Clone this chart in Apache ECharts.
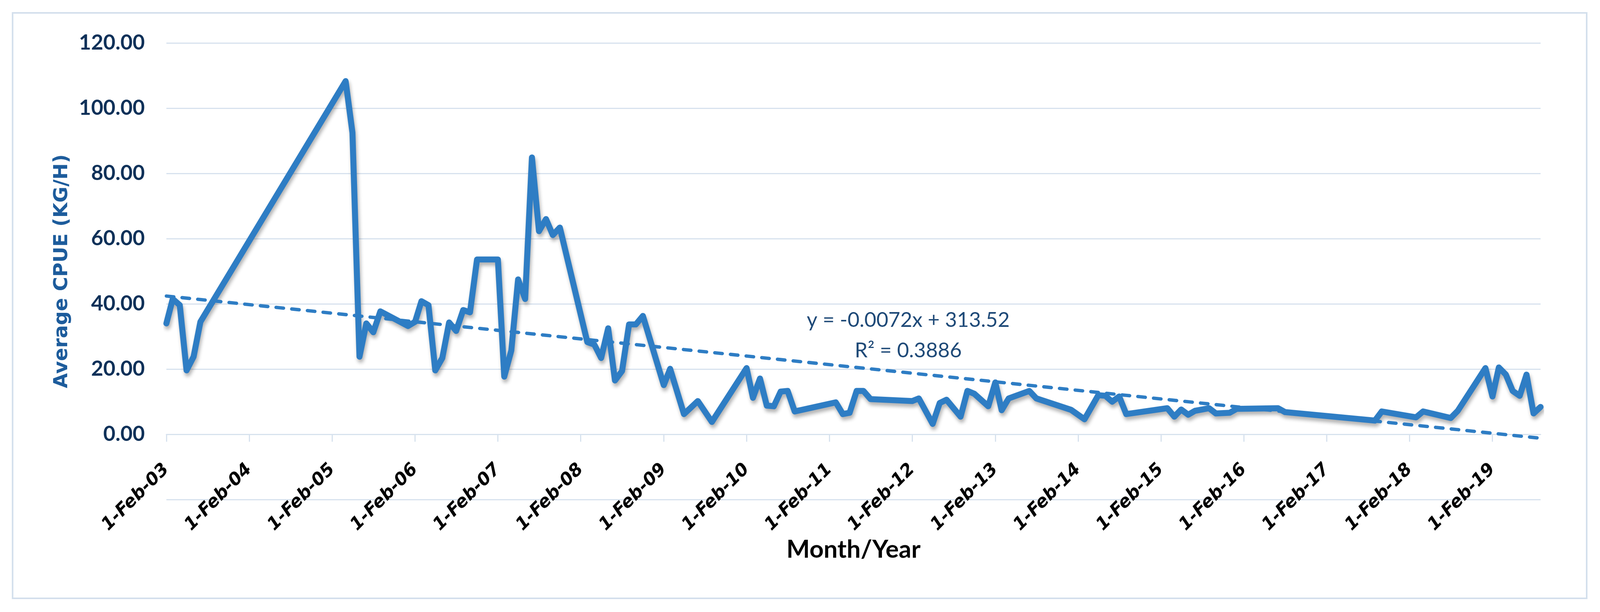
<!DOCTYPE html>
<html>
<head>
<meta charset="utf-8">
<script src="https://cdn.jsdelivr.net/npm/echarts@6/dist/echarts.min.js"></script>
<style>
html,body{margin:0;padding:0;background:#ffffff;overflow:hidden;width:100%;height:100%;}
#chart{width:100vw;height:100vh;}
</style>
</head>
<body>
<div id="chart"></div>
<script>
const months = [
  '2003-02','2003-03','2003-04','2003-05','2003-06','2003-07',
  '2005-04','2005-05','2005-06','2005-07','2005-08','2005-09',
  '2006-01','2006-02','2006-03','2006-04','2006-05','2006-06','2006-07','2006-08','2006-09','2006-10','2006-11',
  '2007-02','2007-03','2007-04','2007-05','2007-06','2007-07','2007-08','2007-09','2007-10','2007-11',
  '2008-03','2008-04','2008-05','2008-06','2008-07','2008-08','2008-09','2008-10','2008-11',
  '2009-02','2009-03','2009-05','2009-07','2009-09',
  '2010-02','2010-03','2010-04','2010-05','2010-06','2010-07','2010-08','2010-09',
  '2011-03','2011-04','2011-05','2011-06','2011-07','2011-08',
  '2012-02','2012-03','2012-05','2012-06','2012-07','2012-09','2012-10','2012-11',
  '2013-01','2013-02','2013-03','2013-04','2013-07','2013-08',
  '2014-01','2014-03','2014-05','2014-06','2014-07','2014-08','2014-09',
  '2015-03','2015-04','2015-05','2015-06','2015-07','2015-09','2015-10','2015-12',
  '2016-01','2016-07','2016-08',
  '2017-09','2017-10',
  '2018-03','2018-04','2018-08','2018-09',
  '2019-01','2019-02','2019-03','2019-04','2019-05','2019-06','2019-07','2019-08','2019-09'
];
const cpue = [
  34.0,41.5,39.6,19.6,23.8,34.5,
  108.3,92.5,23.8,34.0,31.3,37.7,
  33.2,34.5,40.8,39.6,19.6,23.4,34.3,31.7,38.1,37.4,53.6,
  53.6,17.7,25.7,47.5,41.5,84.9,62.3,66.0,61.1,63.4,
  28.3,27.5,23.4,32.5,16.5,19.4,33.7,33.7,36.3,
  15.1,20.1,6.2,10.2,3.8,
  20.3,11.2,17.1,8.8,8.6,13.1,13.3,7.0,
  9.8,6.2,6.6,13.3,13.3,10.8,
  10.2,11.0,3.2,9.6,10.6,5.4,13.3,12.4,
  8.6,15.9,7.4,11.0,13.3,11.0,
  7.5,4.6,12.0,11.8,10.0,11.6,6.2,
  8.0,5.4,7.6,6.0,7.2,8.0,6.4,6.6,
  7.8,8.0,6.8,
  4.2,7.0,
  5.2,7.0,5.0,7.2,
  20.3,11.6,20.5,18.3,13.3,11.8,18.3,6.4,8.4
];
// x-axis tick labels: 1 February of each year
const tickYears = ['2003','2004','2005','2006','2007','2008','2009','2010','2011','2012','2013','2014','2015','2016','2017','2018','2019'];
// linear trend line end values (at first and last month)
const trendStart = 42.4;
const trendEnd = -1.2;
const trendLabel1 = 'y = -0.0072x + 313.52';
const trendLabel2 = 'R\u00B2 = 0.3886';
const yMin = -20, yMax = 120, yStep = 20;

function dayNum(s) {
  const p = s.split('-').map(Number);
  return Date.UTC(p[0], p[1] - 1, p.length > 2 ? p[2] : 1) / 864e5;
}
const MON = ['Jan','Feb','Mar','Apr','May','Jun','Jul','Aug','Sep','Oct','Nov','Dec'];
function dayLabel(v) {
  const d = new Date(Math.round(v) * 864e5);
  return d.getUTCDate() + '-' + MON[d.getUTCMonth()] + '-' + String(d.getUTCFullYear()).slice(2);
}

const xMin = dayNum(months[0]);
const xMax = dayNum(months[months.length - 1]);
const tickDays = tickYears.map(y => dayNum(y + '-02-01'));
const lineData = months.map((m, i) => [dayNum(m), cpue[i]]);
const trendData = [[xMin, trendStart], [xMax, trendEnd]];

const BLUE = '#2E7DC4';
const GRID = '#D7E2EE';

const el = document.getElementById('chart');
const chart = echarts.init(el, null, {renderer: 'canvas'});
// layout designed on a 4443 x 1567 canvas, scaled to the actual viewport
const W = chart.getWidth(), H = chart.getHeight();
const sx = W / 4443, sy = H / 1567;
const sf = Math.sqrt(sx * sy);

chart.setOption({
  animation: false,
  backgroundColor: '#ffffff',
  grid: {left: 462 * sx, right: 165 * sx, top: 110 * sy, bottom: 288 * sy, outerBoundsMode: 'none', containLabel: false},
  xAxis: {
    type: 'value',
    min: xMin,
    max: xMax,
    splitLine: {show: false},
    axisLine: {show: true, onZero: true, lineStyle: {color: GRID, width: 3}},
    axisTick: {show: true, customValues: tickDays, length: 19 * sy, lineStyle: {color: GRID, width: 3}},
    axisLabel: {
      customValues: tickDays,
      formatter: dayLabel,
      rotate: 45,
      margin: -84 * sy,
      fontFamily: 'DejaVu Sans',
      fontWeight: 'bold',
      fontStyle: 'italic',
      fontSize: 47 * sf,
      color: '#000000'
    },
    name: 'Month/Year',
    nameLocation: 'middle',
    nameGap: 97 * sy,
    nameMoveOverlap: false,
    nameTextStyle: {fontFamily: 'Lato', fontWeight: 'bold', fontSize: 66 * sf, color: '#000000'}
  },
  yAxis: {
    type: 'value',
    min: yMin,
    max: yMax,
    interval: yStep,
    axisLine: {show: false},
    axisTick: {show: false},
    splitLine: {show: true, lineStyle: {color: GRID, width: 3}},
    axisLabel: {
      formatter: v => (v === yMin ? '' : v.toFixed(2)),
      margin: 60 * sx,
      fontFamily: 'Lato',
      fontWeight: 'bold',
      fontSize: 56 * sf,
      color: '#0F3159'
    },
    name: 'Average CPUE (KG/H)',
    nameLocation: 'middle',
    nameRotate: 90,
    nameGap: 262 * sx,
    nameMoveOverlap: false,
    nameTextStyle: {fontFamily: 'DejaVu Sans', fontWeight: 'bold', fontSize: 52 * sf, color: '#1D5C9C'}
  },
  series: [
    {
      name: 'Trend',
      type: 'line',
      data: trendData,
      showSymbol: false,
      silent: true,
      z: 3,
      lineStyle: {color: BLUE, width: 9 * sf, type: [20 * sf, 22 * sf], cap: 'round'}
    },
    {
      name: 'Average CPUE',
      type: 'line',
      data: lineData,
      showSymbol: false,
      z: 2,
      lineStyle: {
        color: BLUE, width: 16 * sf, join: 'round', cap: 'round',
        shadowColor: 'rgba(0,0,0,0.30)', shadowBlur: 10, shadowOffsetX: 3, shadowOffsetY: 8
      }
    }
  ],
  graphic: [
    {
      type: 'rect', silent: true, z: -1,
      shape: {x: 35 * sx, y: 33 * sy, width: 4371 * sx, height: 1499 * sy},
      style: {fill: 'none', stroke: '#D3DFEC', lineWidth: 4}
    },
    {
      type: 'text', silent: true,
      style: {text: trendLabel1, x: 2522 * sx, y: 820 * sy, textAlign: 'center', textVerticalAlign: 'middle',
              fontFamily: 'Lato', fontSize: 55 * sf, fill: '#1F4A78'}
    },
    {
      type: 'text', silent: true,
      style: {text: trendLabel2, x: 2522 * sx, y: 898 * sy, textAlign: 'center', textVerticalAlign: 'middle',
              fontFamily: 'Lato', fontSize: 55 * sf, fill: '#1F4A78'}
    }
  ]
});
</script>
</body>
</html>
